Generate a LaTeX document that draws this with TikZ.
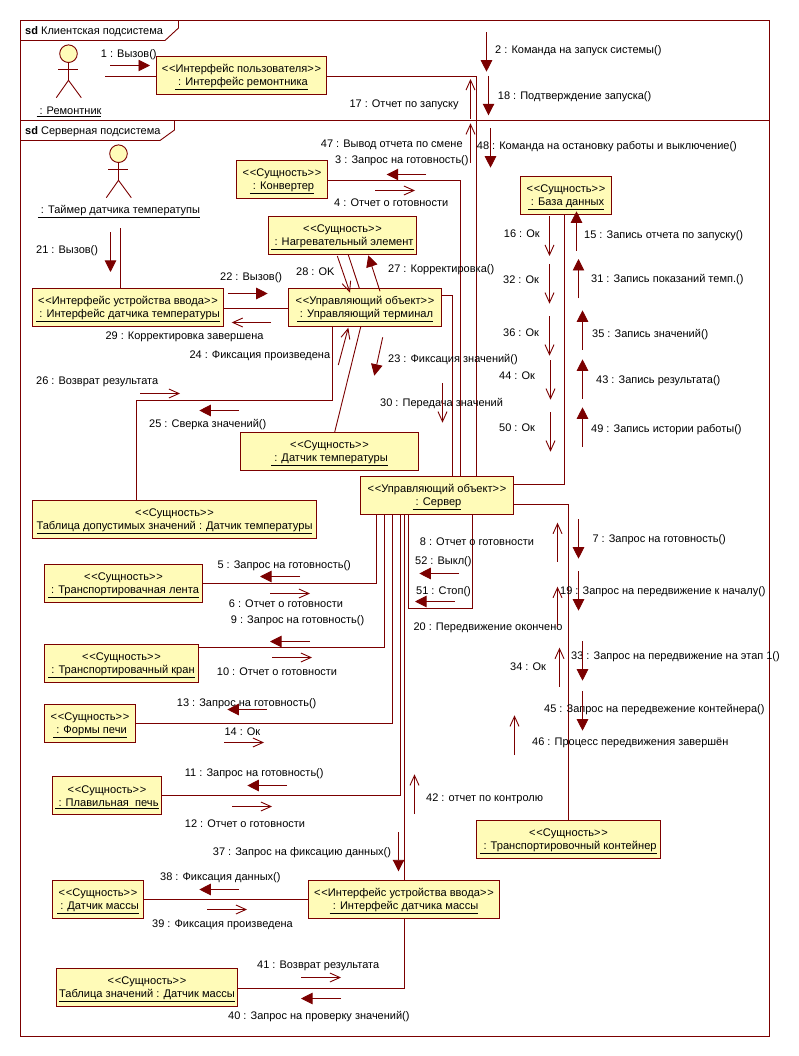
\documentclass[tikz,border=0pt]{standalone}
\usepackage{fontspec}
\setmainfont{Liberation Sans}
\usetikzlibrary{arrows.meta}
\definecolor{umlline}{HTML}{7B0000}
\definecolor{umlfill}{HTML}{FFFBB8}
\newcommand{\stereo}[1]{\rule{0pt}{11pt}<\kern0.8pt<#1>\kern0.8pt>}
\tikzset{
	wire/.style={draw=umlline, line width=0.9pt},
	call/.style={wire, -{Triangle[length=11.5pt,width=11.5pt]}},
	back/.style={wire, -{Straight Barb[length=10pt,width=9pt]}},
	obj/.style={wire, fill=umlfill, align=center, inner sep=0pt, font=\fontsize{11.1}{13}\selectfont},
	msg/.style={anchor=west, inner sep=0pt, yshift=-1.2pt, text height=8pt, text depth=2.5pt, font=\fontsize{11}{13}\selectfont},
	actorname/.style={inner sep=0pt, font=\fontsize{11}{13}\selectfont},
	frm/.style={wire, inner sep=0pt},
	actorfig/.pic={
		\draw [wire, fill=umlfill] (0,0) circle [radius=8.8];
		\draw [wire] (0,8.8) -- (0,26.6);
		\draw [wire] (-10.2,15.6) -- (9.8,15.6);
		\draw [wire] (-12.2,44) -- (0,26.6) -- (12.8,44);
	}
}
\begin{document}
\begin{tikzpicture}[x=1pt, y=-1pt]
\useasboundingbox (0,0) rectangle (798,1056);

\node (clientfrm) [frm, minimum width=749pt, minimum height=100pt] at (395,70.5) {};
\node (serverfrm) [frm, minimum width=749pt, minimum height=916pt] at (395,578.5) {};
\draw [wire] (20.5,40.5) -- (165,40.5) -- (178.5,28) -- (178.5,20.5);
\draw [wire] (20.5,140.5) -- (160,140.5) -- (174.5,130) -- (174.5,120.5);
\node (clienttab) [msg] at (25,31) {\textbf{sd} Клиентская подсистема};
\node (servertab) [msg] at (25,131) {\textbf{sd} Серверная подсистема};

\pic at (68.5,53.7) {actorfig};
\pic at (118.5,153.7) {actorfig};
\node (remfig) [minimum width=74pt, minimum height=60pt, inner sep=0pt] at (68,76.5) {};
\node (remname) [actorname] at (69,111.5) {\underline{~: Ремонтник}};
\node (timername) [actorname, minimum height=32pt] at (119,212) {\underline{~: Таймер датчика температупы}};

\node (ui)      [obj, minimum width=170pt, minimum height=38pt] at (241.5,75.5)  {\stereo{Интерфейс пользователя}\\\underline{~: Интерфейс ремонтника}};
\node (conv)    [obj, minimum width=91pt,  minimum height=38pt] at (282,179.5)   {\stereo{Сущность}\\\underline{~: Конвертер}};
\node (heater)  [obj, minimum width=148pt, minimum height=38pt] at (342.5,235.5) {\stereo{Сущность}\\\underline{~: Нагревательный элемент}};
\node (db)      [obj, minimum width=91pt,  minimum height=38pt] at (566,195.5)   {\stereo{Сущность}\\\underline{~: База данных}};
\node (iftemp)  [obj, minimum width=191pt, minimum height=38pt] at (128,307.5)   {\stereo{Интерфейс устройства ввода}\\\underline{~: Интерфейс датчика температуры}};
\node (term)    [obj, minimum width=153pt, minimum height=38pt] at (365,307.5)   {\stereo{Управляющий объект}\\\underline{~: Управляющий терминал}};
\node (senstemp) [obj, minimum width=178pt, minimum height=38pt] at (329.5,451.5) {\stereo{Сущность}\\\underline{~: Датчик температуры}};
\node (tabtemp) [obj, minimum width=284pt, minimum height=38pt] at (174.5,519.5) {\stereo{Сущность}\\\underline{Таблица допустимых значений : Датчик температуры}};
\node (server)  [obj, minimum width=153pt, minimum height=38pt] at (437,495.5)   {\stereo{Управляющий объект}\\\underline{~: Сервер}};
\node (belt)    [obj, minimum width=158pt, minimum height=38pt] at (123.5,583.5) {\stereo{Сущность}\\\underline{~: Транспортировачная лента}};
\node (crane)   [obj, minimum width=154pt, minimum height=38pt] at (121.5,663.5) {\stereo{Сущность}\\\underline{~: Транспортировачный кран}};
\node (forms)   [obj, minimum width=91pt,  minimum height=38pt] at (90,723.5)    {\stereo{Сущность}\\\underline{~: Формы печи}};
\node (furnace) [obj, minimum width=109pt, minimum height=38pt] at (107,795.5)   {\stereo{Сущность}\\\underline{~: Плавильная~~печь}};
\node (box)     [obj, minimum width=184pt, minimum height=38pt] at (568.5,839.5) {\stereo{Сущность}\\\underline{~: Транспортировочный контейнер}};
\node (sensmass) [obj, minimum width=91pt, minimum height=38pt] at (98,899.5)    {\stereo{Сущность}\\\underline{~: Датчик массы}};
\node (ifmass)  [obj, minimum width=191pt, minimum height=38pt] at (404,899.5)   {\stereo{Интерфейс устройства ввода}\\\underline{~: Интерфейс датчика массы}};
\node (tabmass) [obj, minimum width=181pt, minimum height=38pt] at (147,987.5)   {\stereo{Сущность}\\\underline{Таблица значений : Датчик массы}};

\draw [wire] (remfig.east) -- (remfig.east -| ui.west);
\draw [wire] (ui.east |- 0,76.5) -- (476.5,76.5) -- (476.5,0 |- server.north);
\draw [wire] (120.5,0 |- timername.south) -- (120.5,0 |- iftemp.north);
\draw [wire] (conv.east |- 0,180.5) -- (460.5,180.5) -- (460.5,0 |- server.north);
\draw [wire] (term.east |- 0,295.5) -- (452.5,295.5) -- (452.5,0 |- server.north);
\draw [wire] (iftemp.east |- 0,308.5) -- (term.west |- 0,308.5);
\draw [wire] (348.3,0 |- heater.south) -- (359.3,0 |- term.north);
\draw [wire] (360.7,0 |- term.south) -- (334.7,0 |- senstemp.north);
\draw [wire] (332.5,0 |- term.south) -- (332.5,400.5) -- (136.5,400.5) -- (136.5,0 |- tabtemp.north);
\draw [wire] (server.east |- 0,484.5) -- (564.5,484.5) -- (564.5,0 |- db.south);
\draw [wire] (server.east |- 0,504.5) -- (568.5,504.5) -- (568.5,0 |- box.north);
\draw [wire] (376.5,0 |- server.south) -- (376.5,583.5) -- (belt.east |- 0,583.5);
\draw [wire] (384.5,0 |- server.south) -- (384.5,647.5) -- (crane.east |- 0,647.5);
\draw [wire] (392.5,0 |- server.south) -- (392.5,723.5) -- (forms.east |- 0,723.5);
\draw [wire] (400.5,0 |- server.south) -- (400.5,795.5) -- (furnace.east |- 0,795.5);
\draw [wire] (404.5,0 |- server.south) -- (404.5,0 |- ifmass.north);
\draw [wire] (408.5,0 |- server.south) -- (408.5,608.5) -- (472.5,608.5) -- (472.5,0 |- server.south);
\draw [wire] (sensmass.east) -- (ifmass.west);
\draw [wire] (404.5,0 |- ifmass.south) -- (404.5,988.5) -- (tabmass.east |- 0,988.5);

\node (m1) [msg] at (100.7,54) {1 : Вызов()};
\coordinate (a1) at (110,65.5); \coordinate (b1) at (150,65.5); \draw [call] (a1) -- (b1);
\node (m2) [msg] at (495,49.3) {2 : Команда на запуск системы()};
\coordinate (a2) at (486.5,32.3); \coordinate (b2) at (486.5,71.7); \draw [call] (a2) -- (b2);
\node (m3) [msg] at (335,160) {3 : Запрос на готовность()};
\coordinate (a3) at (426,174.5); \coordinate (b3) at (386.7,174.5); \draw [call] (a3) -- (b3);
\node (m4) [msg] at (334,202.7) {4 : Отчет о готовности};
\coordinate (a4) at (375,190.5); \coordinate (b4) at (415,190.5); \draw [back] (a4) -- (b4);
\node (m5) [msg] at (217.3,564.3) {5 : Запрос на готовность()};
\coordinate (a5) at (300,576.5); \coordinate (b5) at (260,576.5); \draw [call] (a5) -- (b5);
\node (m6) [msg] at (228.7,603.3) {6 : Отчет о готовности};
\coordinate (a6) at (270,593.5); \coordinate (b6) at (310,593.5); \draw [back] (a6) -- (b6);
\node (m7) [msg] at (592.3,538.3) {7 : Запрос на готовность()};
\coordinate (a7) at (578.5,519); \coordinate (b7) at (578.5,558.7); \draw [call] (a7) -- (b7);
\node (m8) [msg] at (419.7,542) {8 : Отчет о готовности};
\coordinate (a8) at (557.5,561.7); \coordinate (b8) at (557.5,522.7); \draw [back] (a8) -- (b8);
\node (m9) [msg] at (230.7,619.3) {9 : Запрос на готовность()};
\coordinate (a9) at (310,641.5); \coordinate (b9) at (270,641.5); \draw [call] (a9) -- (b9);
\node (m10) [msg] at (216.7,671.3) {10 : Отчет о готовности};
\coordinate (a10) at (272,657.5); \coordinate (b10) at (312,657.5); \draw [back] (a10) -- (b10);
\node (m11) [msg] at (184.7,772.3) {11 : Запрос на готовность()};
\coordinate (a11) at (287,785.5); \coordinate (b11) at (247.3,785.5); \draw [call] (a11) -- (b11);
\node (m12) [msg] at (184.7,823.3) {12 : Отчет о готовности};
\coordinate (a12) at (232,806.5); \coordinate (b12) at (272,806.5); \draw [back] (a12) -- (b12);
\node (m13) [msg] at (176.7,702.3) {13 : Запрос на готовность()};
\coordinate (a13) at (267,709.5); \coordinate (b13) at (227.3,709.5); \draw [call] (a13) -- (b13);
\node (m14) [msg] at (224.3,731.3) {14 : Ок};
\coordinate (a14) at (224,742.5); \coordinate (b14) at (264,742.5); \draw [back] (a14) -- (b14);
\node (m15) [msg] at (584,234.3) {15 : Запись отчета по запуску()};
\coordinate (a15) at (576.5,250.7); \coordinate (b15) at (576.5,211.3); \draw [call] (a15) -- (b15);
\node (m16) [msg] at (503.7,233.3) {16 : Ок};
\coordinate (a16) at (549.5,216); \coordinate (b16) at (549.5,256); \draw [back] (a16) -- (b16);
\node (m17) [msg] at (349.3,103.3) {17 : Отчет по запуску};
\coordinate (a17) at (470.5,119); \coordinate (b17) at (470.5,79); \draw [back] (a17) -- (b17);
\node (m18) [msg] at (497.7,95.3) {18 : Подтверждение запуска()};
\coordinate (a18) at (488.5,76); \coordinate (b18) at (488.5,115.3); \draw [call] (a18) -- (b18);
\node (m19) [msg] at (560,590.3) {19 : Запрос на передвижение к началу()};
\coordinate (a19) at (578.5,571); \coordinate (b19) at (578.5,610.7); \draw [call] (a19) -- (b19);
\node (m20) [msg] at (413.3,626.3) {20 : Передвижение окончено};
\coordinate (a20) at (557.5,626.7); \coordinate (b20) at (557.5,586.7); \draw [back] (a20) -- (b20);
\node (m21) [msg] at (36,250) {21 : Вызов()};
\coordinate (a21) at (110.5,232.3); \coordinate (b21) at (110.5,272); \draw [call] (a21) -- (b21);
\node (m22) [msg] at (220,276.3) {22 : Вызов()};
\coordinate (a22) at (228.3,293.5); \coordinate (b22) at (267.7,293.5); \draw [call] (a22) -- (b22);
\node (m23) [msg] at (388,358.3) {23 : Фиксация значений()};
\coordinate (a23) at (382.7,337.3); \coordinate (b23) at (374.3,375.7); \draw [call] (a23) -- (b23);
\node (m24) [msg] at (189.3,354.3) {24 : Фиксация произведена};
\coordinate (a24) at (338.3,365); \coordinate (b24) at (348.3,327.7); \draw [back] (a24) -- (b24);
\node (m25) [msg] at (149,423.3) {25 : Сверка значений()};
\coordinate (a25) at (239,410.5); \coordinate (b25) at (199.3,410.5); \draw [call] (a25) -- (b25);
\node (m26) [msg] at (36,380.3) {26 : Возврат результата};
\coordinate (a26) at (140,393.5); \coordinate (b26) at (180,393.5); \draw [back] (a26) -- (b26);
\node (m27) [msg] at (388,268.3) {27 : Корректировка()};
\coordinate (a27) at (380,291.3); \coordinate (b27) at (368.3,255.3); \draw [call] (a27) -- (b27);
\node (m28) [msg] at (296,272) {28 : OK};
\coordinate (a28) at (337.3,256); \coordinate (b28) at (350,292.7); \draw [back] (a28) -- (b28);
\node (m29) [msg] at (105.3,335.3) {29 : Корректировка завершена};
\coordinate (a29) at (271,322.5); \coordinate (b29) at (231.7,322.5); \draw [back] (a29) -- (b29);
\node (m30) [msg] at (380,402.3) {30 : Передача значений};
\coordinate (a30) at (442.5,383.3); \coordinate (b30) at (442.5,422.7); \draw [back] (a30) -- (b30);
\node (m31) [msg] at (591,279) {31 : Запись показаний темп.()};
\coordinate (a31) at (578.5,298.3); \coordinate (b31) at (578.5,259); \draw [call] (a31) -- (b31);
\node (m32) [msg] at (503,280) {32 : Ок};
\coordinate (a32) at (549.5,264); \coordinate (b32) at (549.5,303.7); \draw [back] (a32) -- (b32);
\node (m33) [msg] at (571,655.3) {33 : Запрос на передвижение на этап 1()};
\coordinate (a33) at (582.5,641.3); \coordinate (b33) at (582.5,680.7); \draw [call] (a33) -- (b33);
\node (m34) [msg] at (510,667) {34 : Ок};
\coordinate (a34) at (559.5,686.7); \coordinate (b34) at (559.5,647.7); \draw [back] (a34) -- (b34);
\node (m35) [msg] at (592,334) {35 : Запись значений()};
\coordinate (a35) at (582.5,349.7); \coordinate (b35) at (582.5,310.3); \draw [call] (a35) -- (b35);
\node (m36) [msg] at (503,333) {36 : Ок};
\coordinate (a36) at (549.5,316); \coordinate (b36) at (549.5,355.7); \draw [back] (a36) -- (b36);
\node (m37) [msg] at (212.7,851.7) {37 : Запрос на фиксацию данных()};
\coordinate (a37) at (398.5,832); \coordinate (b37) at (398.5,871.3); \draw [call] (a37) -- (b37);
\node (m38) [msg] at (160,876.3) {38 : Фиксация данных()};
\coordinate (a38) at (239,889.5); \coordinate (b38) at (199.3,889.5); \draw [call] (a38) -- (b38);
\node (m39) [msg] at (152,923.3) {39 : Фиксация произведена};
\coordinate (a39) at (207,909.5); \coordinate (b39) at (247,909.5); \draw [back] (a39) -- (b39);
\node (m40) [msg] at (228,1015.7) {40 : Запрос на проверку значений()};
\coordinate (a40) at (341,998.5); \coordinate (b40) at (301,998.5); \draw [call] (a40) -- (b40);
\node (m41) [msg] at (257,964.3) {41 : Возврат результата};
\coordinate (a41) at (301,977.5); \coordinate (b41) at (341,977.5); \draw [back] (a41) -- (b41);
\node (m42) [msg] at (426,797.3) {42 : отчет по контролю};
\coordinate (a42) at (414.5,814); \coordinate (b42) at (414.5,774.3); \draw [back] (a42) -- (b42);
\node (m43) [msg] at (596,379.3) {43 : Запись результата()};
\coordinate (a43) at (582.5,398.7); \coordinate (b43) at (582.5,359.3); \draw [call] (a43) -- (b43);
\node (m44) [msg] at (499,376) {44 : Ок};
\coordinate (a44) at (550.5,360); \coordinate (b44) at (550.5,399.7); \draw [back] (a44) -- (b44);
\node (m45) [msg] at (544,708.3) {45 : Запрос на передвежение контейнера()};
\coordinate (a45) at (582.5,691.3); \coordinate (b45) at (582.5,730.7); \draw [call] (a45) -- (b45);
\node (m46) [msg] at (532,742) {46 : Процесс передвижения завершён};
\coordinate (a46) at (514.5,755); \coordinate (b46) at (514.5,715.3); \draw [back] (a46) -- (b46);
\node (m47) [msg] at (320.7,143.3) {47 : Вывод отчета по смене};
\coordinate (a47) at (470.5,163); \coordinate (b47) at (470.5,123.3); \draw [back] (a47) -- (b47);
\node (m48) [msg] at (476.7,145.3) {48 : Команда на остановку работы и выключение()};
\coordinate (a48) at (490.5,128.3); \coordinate (b48) at (490.5,167.7); \draw [call] (a48) -- (b48);
\node (m49) [msg] at (591,428.3) {49 : Запись истории работы()};
\coordinate (a49) at (582.5,446.7); \coordinate (b49) at (582.5,407.3); \draw [call] (a49) -- (b49);
\node (m50) [msg] at (499,428) {50 : Ок};
\coordinate (a50) at (550.5,412); \coordinate (b50) at (550.5,451.7); \draw [back] (a50) -- (b50);
\node (m51) [msg] at (416,590.3) {51 : Стоп()};
\coordinate (a51) at (454.7,601.5); \coordinate (b51) at (415,601.5); \draw [call] (a51) -- (b51);
\node (m52) [msg] at (415,561) {52 : Выкл()};
\coordinate (a52) at (459,573.5); \coordinate (b52) at (419.3,573.5); \draw [call] (a52) -- (b52);
\end{tikzpicture}
\end{document}
